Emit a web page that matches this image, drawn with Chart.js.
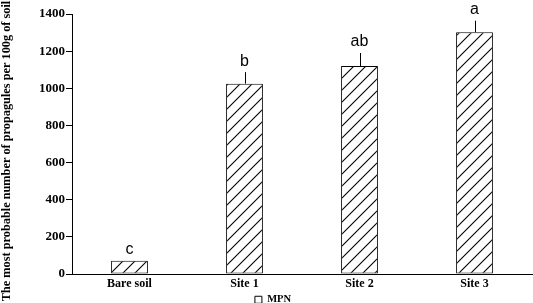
<!DOCTYPE html>
<html lang="en">
<head>
    <meta charset="UTF-8">
    <title>MPN of propagules</title>
    <script src="https://cdn.jsdelivr.net/npm/chart.js"></script>
    <style>
        html, body { margin: 0; padding: 0; background: #fff; }
        #wrap { width: 533px; height: 303px; position: relative; }
    </style>
</head>
<body>
    <div id="wrap"><canvas id="mpnChart"></canvas></div>

    <script>
        // Data
        const sites = ['Bare soil', 'Site 1', 'Site 2', 'Site 3'];
        const mpnValues = [72, 1025, 1120, 1302];
        const mpnErrors = [0, 62, 70, 62];
        const sigLetters = ['c', 'b', 'ab', 'a'];
        const yTicks = [0, 200, 400, 600, 800, 1000, 1200, 1400];
        const yTitle = 'The most probable number of propagules per 100g of soil';

        const serif = '"Liberation Serif", "Times New Roman", serif';

        // Diagonal hatch pattern for the bars
        function makeHatch() {
            const s = 12;
            const c = document.createElement('canvas');
            c.width = s; c.height = s;
            const g = c.getContext('2d');
            g.fillStyle = '#fff';
            g.fillRect(0, 0, s, s);
            g.strokeStyle = '#000';
            g.lineWidth = 1.1;
            g.beginPath();
            g.moveTo(0, s); g.lineTo(s, 0);
            g.moveTo(-s / 2, s / 2); g.lineTo(s / 2, -s / 2);
            g.moveTo(s / 2, s * 1.5); g.lineTo(s * 1.5, s / 2);
            g.stroke();
            return g.createPattern(c, 'repeat');
        }

        // Error bars, significance letters and the rotated y title
        const extras = {
            id: 'extras',
            afterDatasetsDraw(chart) {
                const ctx = chart.ctx;
                const meta = chart.getDatasetMeta(0);
                const y = chart.scales.y;
                ctx.save();
                ctx.strokeStyle = '#000';
                ctx.lineWidth = 1;
                ctx.fillStyle = '#000';
                ctx.font = '16px "Liberation Sans", Arial, sans-serif';
                ctx.textAlign = 'center';
                ctx.textBaseline = 'bottom';
                meta.data.forEach((bar, i) => {
                    const x = Math.round(bar.x) + 0.5;
                    const top = y.getPixelForValue(mpnValues[i] + mpnErrors[i]);
                    if (mpnErrors[i] > 0) {
                        ctx.beginPath();
                        ctx.moveTo(x, y.getPixelForValue(mpnValues[i]));
                        ctx.lineTo(x, top);
                        ctx.stroke();
                    }
                    ctx.fillText(sigLetters[i], bar.x, top - 3);
                });
                ctx.restore();

                ctx.save();
                ctx.translate(7, 151);
                ctx.rotate(-Math.PI / 2);
                ctx.font = 'bold 12.3px ' + serif;
                ctx.fillStyle = '#000';
                ctx.textAlign = 'center';
                ctx.textBaseline = 'middle';
                ctx.fillText(yTitle, 0, 0);
                ctx.restore();
            }
        };

        new Chart(document.getElementById('mpnChart'), {
            type: 'bar',
            data: {
                labels: sites,
                datasets: [{
                    label: 'MPN',
                    data: mpnValues,
                    backgroundColor: makeHatch(),
                    borderColor: '#000',
                    borderWidth: 1,
                    borderSkipped: false,
                    barPercentage: 0.32,
                    categoryPercentage: 1
                }]
            },
            options: {
                responsive: true,
                maintainAspectRatio: false,
                animation: false,
                layout: { padding: { top: 14, right: 1, left: 14, bottom: -12 } },
                scales: {
                    x: {
                        grid: { display: false, drawTicks: false },
                        border: { display: true, color: '#000', width: 1 },
                        ticks: {
                            color: '#000',
                            padding: 3,
                            font: { family: serif, size: 12, weight: 'bold' }
                        }
                    },
                    y: {
                        min: 0,
                        max: 1400,
                        afterBuildTicks: axis => { axis.ticks = yTicks.map(v => ({ value: v })); },
                        afterFit: axis => { axis.width = 58; },
                        grid: { drawOnChartArea: false, drawTicks: true, tickLength: 6, color: '#000' },
                        border: { display: true, color: '#000', width: 1 },
                        ticks: {
                            color: '#000',
                            padding: 1,
                            callback: v => String(v),
                            font: { family: serif, size: 13, weight: 'bold' }
                        }
                    }
                },
                plugins: {
                    legend: {
                        position: 'bottom',
                        labels: {
                            color: '#000',
                            boxWidth: 7,
                            boxHeight: 7,
                            padding: 0,
                            font: { family: serif, size: 10.5, weight: 'bold' },
                            generateLabels: () => [{
                                text: 'MPN',
                                fillStyle: '#fff',
                                strokeStyle: '#000',
                                lineWidth: 1,
                                datasetIndex: 0
                            }]
                        }
                    },
                    tooltip: { enabled: false }
                }
            },
            plugins: [extras]
        });
    </script>
</body>
</html>
